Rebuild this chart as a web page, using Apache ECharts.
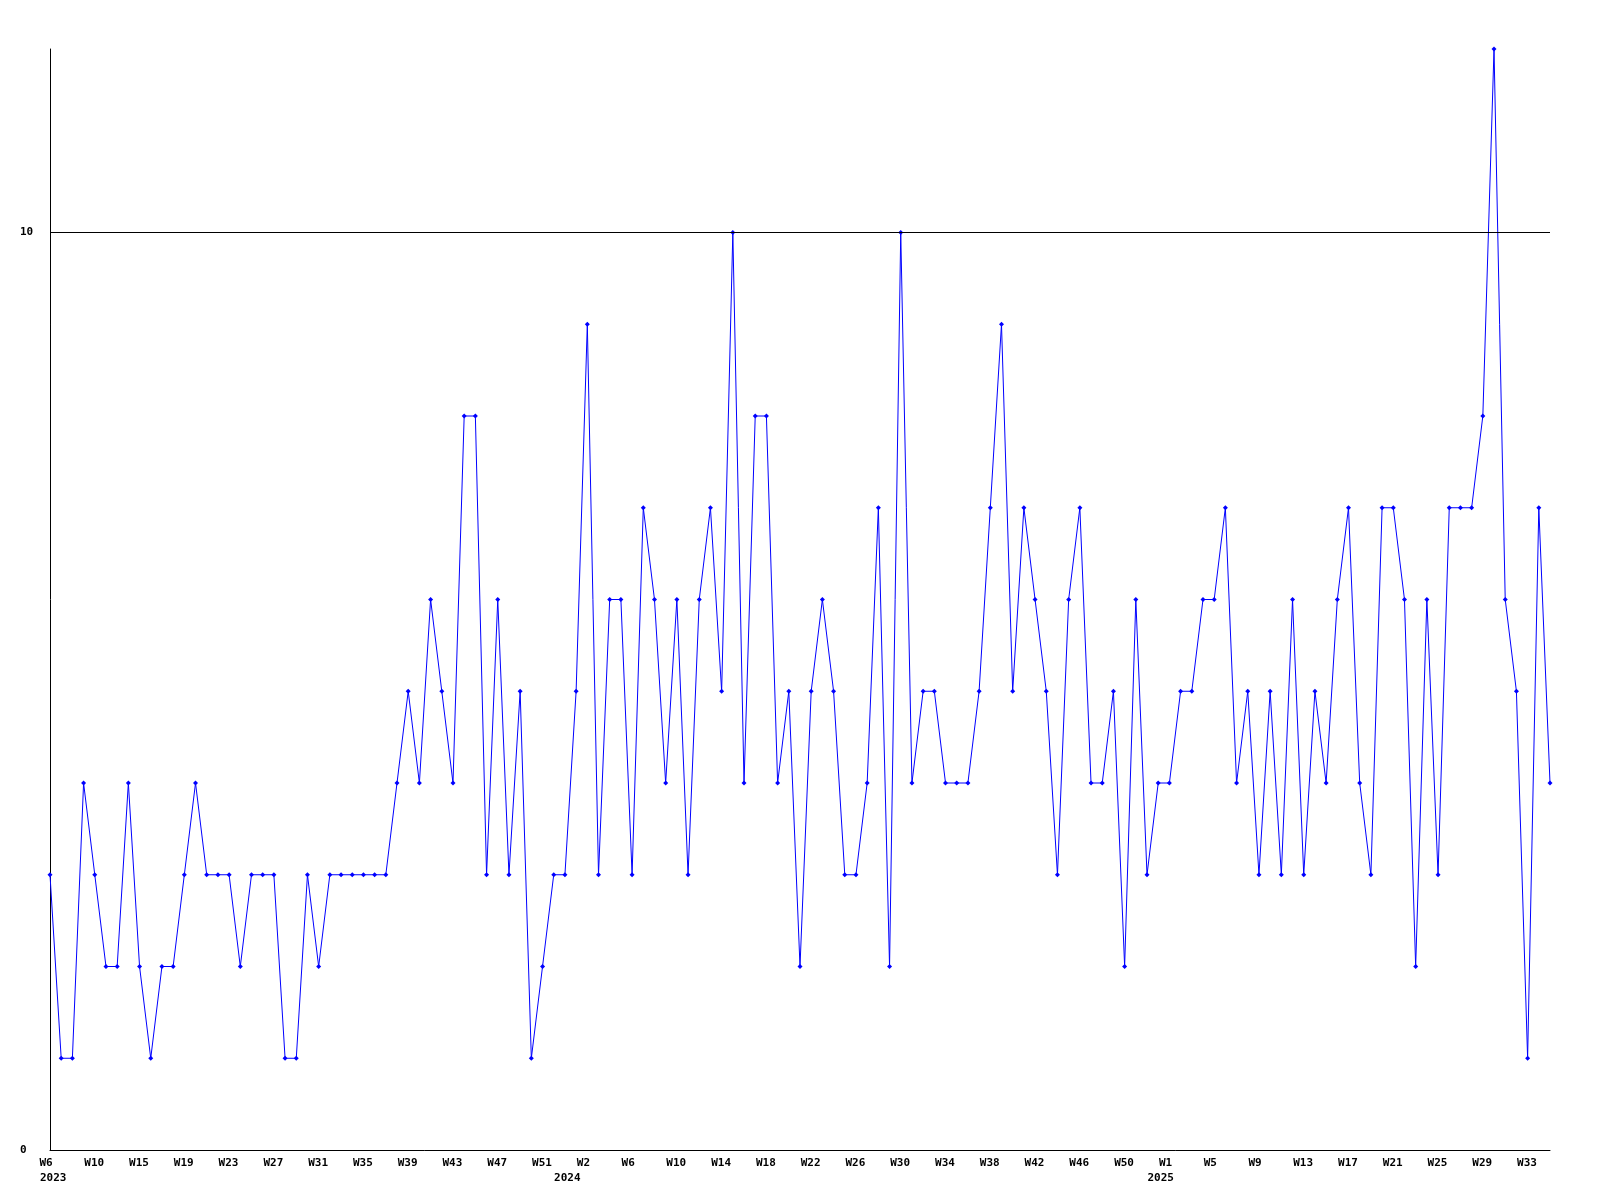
<!DOCTYPE html>
<html>
<head>
<meta charset="utf-8">
<script src="https://cdn.jsdelivr.net/npm/echarts@6/dist/echarts.min.js"></script>
<style>
html,body{margin:0;padding:0;background:#fff;}
#chart{width:1600px;height:1200px;}
</style>
</head>
<body>
<div id="chart"></div>
<script>
// Week categories (2023 W6 .. 2025 W35)
const categories = [
  "2023-W6","2023-W7","2023-W8","2023-W9","2023-W10","2023-W11","2023-W12","2023-W13",
  "2023-W15","2023-W16","2023-W17","2023-W18","2023-W19","2023-W20","2023-W21","2023-W22",
  "2023-W23","2023-W24","2023-W25","2023-W26","2023-W27","2023-W28","2023-W29","2023-W30",
  "2023-W31","2023-W32","2023-W33","2023-W34","2023-W35","2023-W36","2023-W37","2023-W38",
  "2023-W39","2023-W40","2023-W41","2023-W42","2023-W43","2023-W44","2023-W45","2023-W46",
  "2023-W47","2023-W48","2023-W49","2023-W50","2023-W51","2023-W52","2023-W53",
  "2024-W1","2024-W2","2024-W3","2024-W4","2024-W5","2024-W6","2024-W7","2024-W8","2024-W9",
  "2024-W10","2024-W11","2024-W12","2024-W13","2024-W14","2024-W15","2024-W16","2024-W17",
  "2024-W18","2024-W19","2024-W20","2024-W21","2024-W22","2024-W23","2024-W24","2024-W25",
  "2024-W26","2024-W27","2024-W28","2024-W29","2024-W30","2024-W31","2024-W32","2024-W33",
  "2024-W34","2024-W35","2024-W36","2024-W37","2024-W38","2024-W39","2024-W40","2024-W41",
  "2024-W42","2024-W43","2024-W44","2024-W45","2024-W46","2024-W47","2024-W48","2024-W49",
  "2024-W50","2024-W51","2024-W52","2024-W53",
  "2025-W1","2025-W2","2025-W3","2025-W4","2025-W5","2025-W6","2025-W7","2025-W8",
  "2025-W9","2025-W10","2025-W11","2025-W12","2025-W13","2025-W14","2025-W15","2025-W16",
  "2025-W17","2025-W18","2025-W19","2025-W20","2025-W21","2025-W22","2025-W23","2025-W24",
  "2025-W25","2025-W26","2025-W27","2025-W28","2025-W29","2025-W30","2025-W31","2025-W32",
  "2025-W33","2025-W34","2025-W35"
];

// Weekly counts
const values = [
  3,1,1,4,3,2,2,4,2,1,
  2,2,3,4,3,3,3,2,3,3,
  3,1,1,3,2,3,3,3,3,3,
  3,4,5,4,6,5,4,8,8,3,
  6,3,5,1,2,3,3,5,9,3,
  6,6,3,7,6,4,6,3,6,7,
  5,10,4,8,8,4,5,2,5,6,
  5,3,3,4,7,2,10,4,5,5,
  4,4,4,5,7,9,5,7,6,5,
  3,6,7,4,4,5,2,6,3,4,
  4,5,5,6,6,7,4,5,3,5,
  3,6,3,5,4,6,7,4,3,7,
  7,6,2,6,3,7,7,7,8,12,
  6,5,1,7,4
];

// Y-axis tick labels shown
const yTickLabels = [0, 10];
// Reference line value
const refLine = 10;

const FONT = "DejaVu Sans Mono";

function weekPart(c){ return c.split("-")[1]; }
function yearPart(c){ return c.split("-")[0]; }
function isYearStart(i){ return i === 0 || yearPart(categories[i]) !== yearPart(categories[i-1]); }

const txt = { fontFamily: FONT, fontWeight: 'bold', fontSize: 11, color: '#000', align: 'left' };

const chart = echarts.init(document.getElementById('chart'), null, {renderer:'canvas'});
chart.setOption({
  animation: false,
  backgroundColor: '#ffffff',
  grid: { left: 50, right: 50, top: 49, bottom: 50, containLabel: false },
  xAxis: [{
    type: 'category',
    data: categories,
    boundaryGap: false,
    axisLine: { show: true, lineStyle: { color: '#000', width: 1 } },
    axisTick: { show: false },
    splitLine: { show: false },
    axisLabel: {
      interval: 3,
      margin: 8,
      color: '#000',
      fontFamily: FONT,
      fontWeight: 'bold',
      fontSize: 11,
      formatter: function(v){ return '{w|' + weekPart(v) + '}'; },
      rich: { w: Object.assign({ width: 21 }, txt) }
    }
  }, {
    type: 'category',
    data: categories,
    position: 'bottom',
    boundaryGap: false,
    axisLine: { show: false },
    axisTick: { show: false },
    splitLine: { show: false },
    axisLabel: {
      interval: function(i){ return isYearStart(i); },
      margin: 23,
      color: '#000',
      fontFamily: FONT,
      fontWeight: 'bold',
      fontSize: 11,
      formatter: function(v, i){
        return i === 0 ? '{first|' + yearPart(v) + '}' : '{later|' + yearPart(v) + '}';
      },
      rich: {
        first: Object.assign({ width: 20 }, txt),
        later: Object.assign({ width: 44 }, txt)
      }
    }
  }],
  yAxis: {
    type: 'value',
    min: 0,
    max: 12,
    interval: 10,
    axisLine: { show: true, lineStyle: { color: '#000', width: 1 } },
    axisTick: { show: false },
    splitLine: { show: false },
    axisLabel: {
      align: 'left',
      margin: 30,
      color: '#000',
      fontFamily: FONT,
      fontWeight: 'bold',
      fontSize: 11,
      formatter: function(v){ return yTickLabels.indexOf(v) >= 0 ? String(v) : ''; }
    }
  },
  series: [{
    type: 'line',
    data: values,
    xAxisIndex: 0,
    showAllSymbol: true,
    symbol: 'diamond',
    symbolSize: 5,
    lineStyle: { color: '#0000ff', width: 1 },
    itemStyle: { color: '#0000ff' },
    emphasis: { disabled: true },
    markLine: {
      silent: true,
      symbol: 'none',
      label: { show: false },
      lineStyle: { color: '#000', width: 1, type: 'solid' },
      data: [{ yAxis: refLine }]
    }
  }]
});
</script>
</body>
</html>
